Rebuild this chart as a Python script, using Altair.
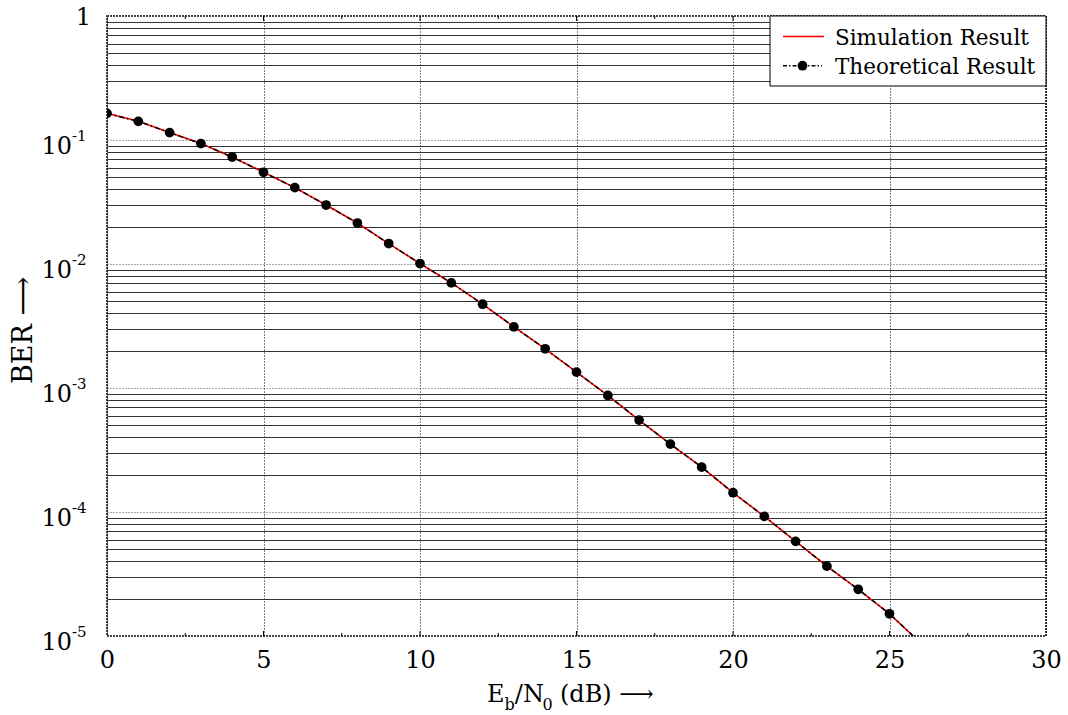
import altair as alt
import pandas as pd

# ---------------- data ----------------
ebn0_db = list(range(0, 27))
ber_simulation = [0.164, 0.1414, 0.1147, 0.0935, 0.0729, 0.0549, 0.0413, 0.0299, 0.0214,
                  0.01462, 0.01009, 0.00704, 0.00474, 0.00311, 0.00207, 0.001342, 0.000871,
                  0.000551, 0.000353, 0.000230, 0.000143, 9.22e-5, 5.80e-5, 3.66e-5,
                  2.38e-5, 1.51e-5, 8.75e-6]
ber_theoretical = [0.164, 0.1414, 0.1147, 0.0935, 0.0729, 0.0549, 0.0413, 0.0299, 0.0214,
                   0.01462, 0.01009, 0.00704, 0.00474, 0.00311, 0.00207, 0.001342, 0.000871,
                   0.000551, 0.000353, 0.000230, 0.000143, 9.22e-5, 5.80e-5, 3.66e-5,
                   2.38e-5, 1.51e-5, 8.75e-6]
series_names = ["Simulation Result", "Theoretical Result"]

x_ticks = [0, 5, 10, 15, 20, 25, 30]
x_minor_ticks = [2.5, 7.5, 12.5, 17.5, 22.5, 27.5]
y_decades = [1e-5, 1e-4, 1e-3, 1e-2, 1e-1]
y_label_base = ["10", "10", "10", "10", "10"]
y_label_exp = ["-5", "-4", "-3", "-2", "-1"]
y_top_value = [1.0]
y_top_label = ["1"]
y_tick_values = [m * 10.0 ** k for k in range(-5, 0) for m in range(1, 10)] + [1.0]

FONT = "DejaVu Serif"
W, H = 939, 620

df_sim = pd.DataFrame({"x": ebn0_db, "ber": ber_simulation})
df_theo = pd.DataFrame({"x": ebn0_db, "ber": ber_theoretical})
df_ylab = pd.DataFrame({"ber": y_decades, "base": y_label_base, "exp": y_label_exp})
df_ytop = pd.DataFrame({"ber": y_top_value, "lab": y_top_label})
one = pd.DataFrame({"k": [0]})

dec_test = "abs(log(datum.value)/LN10 - round(log(datum.value)/LN10)) < 1e-6"

x_enc = alt.X("x:Q", scale=alt.Scale(domain=[0, 30], nice=False, zero=False),
              axis=alt.Axis(values=x_ticks, title=None, labelFont=FONT, labelFontSize=24,
                            labelColor="black", labelPadding=12, ticks=False, tickSize=0,
                            domain=False, grid=True, gridColor="#000", gridDash=[1, 2],
                            gridWidth=1, labelFlush=False, labelOverlap=False))
y_enc = alt.Y("ber:Q", scale=alt.Scale(type="log", domain=[1e-5, 1], nice=False),
              axis=alt.Axis(values=y_tick_values, labels=False,
                            ticks=False, tickSize=0, domain=False, grid=True,
                            gridDash={"condition": {"test": dec_test, "value": [1, 2]}, "value": []},
                            gridColor={"condition": {"test": dec_test, "value": "#555"}, "value": "#333"},
                            gridWidth=1,
                            title="BER ⟶", titleFont=FONT, titleFontSize=27,
                            titleFontWeight="normal", titleColor="black",
                            titleX=-84, titleY=314, titleAlign="center",
                            titleBaseline="middle", titleAngle=270))

sim_line = alt.Chart(df_sim).mark_line(color="#ff0000", strokeWidth=1.6, clip=True).encode(x=x_enc, y=y_enc)
theo_line = alt.Chart(df_theo).mark_line(color="black", strokeWidth=1.5, strokeDash=[5, 3, 1.5, 3],
                                         clip=True).encode(x=x_enc, y=y_enc)
theo_pts = alt.Chart(df_theo).mark_point(filled=True, shape="circle", size=95, color="black",
                                         opacity=1, clip=True).encode(x=x_enc, y=y_enc)

# y tick labels with superscripts
ylab_layers = [
    alt.Chart(df_ylab).mark_text(font=FONT, fontSize=24, align="right", baseline="alphabetic",
                                 color="black", dy=14).encode(x=alt.value(-35), y=y_enc, text="base:N"),
    alt.Chart(df_ylab).mark_text(font=FONT, fontSize=15, align="left", baseline="alphabetic",
                                 color="black", dy=1).encode(x=alt.value(-35), y=y_enc, text="exp:N"),
    alt.Chart(df_ytop).mark_text(font=FONT, fontSize=24, align="right", baseline="alphabetic",
                                 color="black", dy=9).encode(x=alt.value(-16), y=y_enc, text="lab:N"),
]

# inner ticks
df_xmaj = pd.DataFrame({"x": x_ticks[1:-1]})
df_xmin = pd.DataFrame({"x": x_minor_ticks})
tick_layers = [
    alt.Chart(df_xmaj).mark_rule(color="black", strokeWidth=1).encode(x=x_enc, y=alt.value(H), y2=alt.value(H - 5)),
    alt.Chart(df_xmaj).mark_rule(color="black", strokeWidth=1).encode(x=x_enc, y=alt.value(0), y2=alt.value(5)),
    alt.Chart(df_xmin).mark_rule(color="black", strokeWidth=1).encode(x=x_enc, y=alt.value(H), y2=alt.value(H - 3)),
    alt.Chart(df_xmin).mark_rule(color="black", strokeWidth=1).encode(x=x_enc, y=alt.value(0), y2=alt.value(3)),
]

# x title with subscripts
x0, yb, ys = 380, 686, 694
xt = [
    ("E", 24, x0, yb),
    ("b", 16, x0 + 17.6, ys),
    ("/N", 24, x0 + 27.8, yb),
    ("0", 16, x0 + 55.5, ys),
    ("(dB) ⟶", 24, x0 + 73, yb),
]
xtitle_layers = [
    alt.Chart(one).mark_text(font=FONT, fontSize=fs, align="left", baseline="alphabetic",
                             color="black").encode(x=alt.value(px), y=alt.value(py), text=alt.value(t))
    for (t, fs, px, py) in xt
]

# legend
lx0, lx1 = 663, 939
legend_layers = [
    alt.Chart(one).mark_rect(fill="white", stroke="black", strokeWidth=1).encode(
        x=alt.value(lx0), x2=alt.value(lx1), y=alt.value(0), y2=alt.value(70)),
    alt.Chart(one).mark_rule(color="#ff0000", strokeWidth=1.6).encode(
        x=alt.value(676), x2=alt.value(717), y=alt.value(20.5)),
    alt.Chart(one).mark_text(font=FONT, fontSize=21.5, align="left", baseline="alphabetic",
                             color="black").encode(x=alt.value(728), y=alt.value(29),
                                                   text=alt.value(series_names[0])),
    alt.Chart(one).mark_rule(color="black", strokeWidth=1.5, strokeDash=[4, 2, 1.5, 2]).encode(
        x=alt.value(676), x2=alt.value(715), y=alt.value(49.7)),
    alt.Chart(one).mark_point(filled=True, shape="circle", size=95, color="black", opacity=1).encode(
        x=alt.value(695.5), y=alt.value(49.7)),
    alt.Chart(one).mark_text(font=FONT, fontSize=21.5, align="left", baseline="alphabetic",
                             color="black").encode(x=alt.value(728), y=alt.value(58),
                                                   text=alt.value(series_names[1])),
]

chart = alt.layer(sim_line, theo_line, theo_pts, *ylab_layers, *tick_layers, *xtitle_layers,
                  *legend_layers).properties(
    width=W, height=H,
    padding={"left": 107, "top": 16, "right": 22, "bottom": 79},
    autosize=alt.AutoSizeParams(type="none"),
    background="white",
).configure_view(stroke="black", strokeWidth=1.5, strokeDash=[2, 1])

chart.save("out.html", embed_options={"renderer": "svg", "actions": False})
